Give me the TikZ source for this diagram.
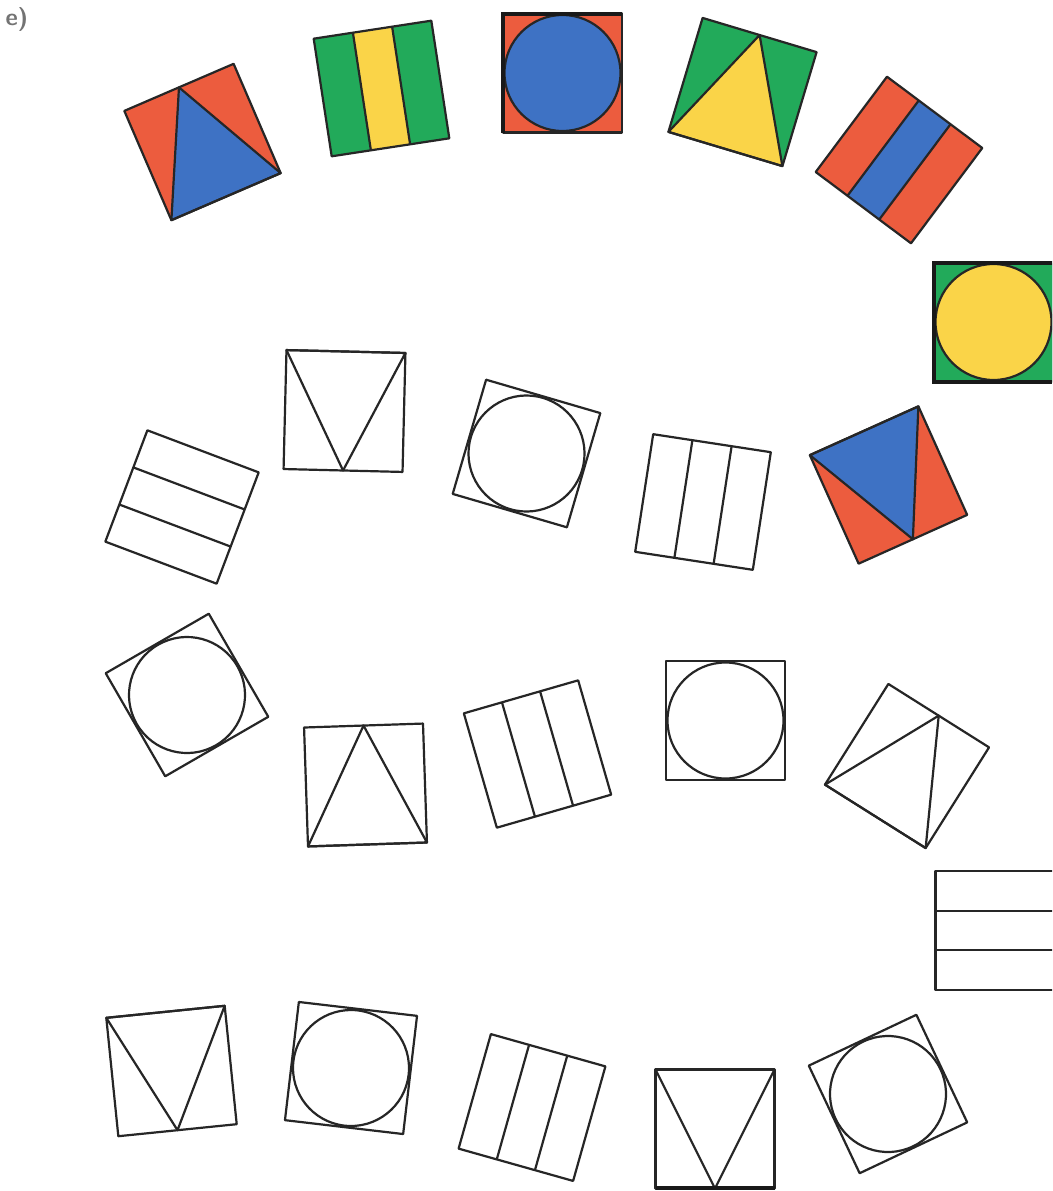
\documentclass[tikz,border=0pt]{standalone}
\definecolor{tred}{RGB}{236,92,62}
\definecolor{tblue}{RGB}{62,114,196}
\definecolor{tgreen}{RGB}{34,170,90}
\definecolor{tyellow}{RGB}{250,212,72}
\def\hs{59.5}
\tikzset{
  tileline/.style={line width=2.2pt, draw=black!85, line join=round},
  thickedge/.style={line width=4pt, draw=black!90},
  pics/circtile/.style 2 args={code={
    \path[fill=#1] (-\hs,-\hs) rectangle (\hs,\hs);
    \path[fill=#2, tileline] (0,0) circle (\hs-1.5);
    \draw[tileline] (-\hs,-\hs) rectangle (\hs,\hs);
  }},
  pics/atile/.style 2 args={code={
    \path[fill=#1] (-\hs,-\hs) rectangle (\hs,\hs);
    \path[fill=#2, tileline] (0,-\hs) -- (\hs,\hs) -- (-\hs,\hs) -- cycle;
    \draw[tileline] (-\hs,-\hs) rectangle (\hs,\hs);
  }},
  pics/vtile/.style 2 args={code={
    \path[fill=#1] (-\hs,-\hs) rectangle (\hs,\hs);
    \path[fill=#2, tileline] (-\hs,-\hs) -- (\hs,-\hs) -- (0,\hs) -- cycle;
    \draw[tileline] (-\hs,-\hs) rectangle (\hs,\hs);
  }},
  pics/vstripetile/.style 2 args={code={
    \path[fill=#1] (-\hs,-\hs) rectangle (\hs,\hs);
    \path[fill=#2] (-\hs/3,-\hs) rectangle (\hs/3,\hs);
    \draw[tileline] (-\hs/3,-\hs) -- (-\hs/3,\hs) (\hs/3,-\hs) -- (\hs/3,\hs);
    \draw[tileline] (-\hs,-\hs) rectangle (\hs,\hs);
  }},
  pics/hstripetile/.style 2 args={code={
    \path[fill=#1] (-\hs,-\hs) rectangle (\hs,\hs);
    \path[fill=#2] (-\hs,-\hs/3) rectangle (\hs,\hs/3);
    \draw[tileline] (-\hs,-\hs/3) -- (\hs,-\hs/3) (-\hs,\hs/3) -- (\hs,\hs/3);
    \draw[tileline] (-\hs,-\hs) rectangle (\hs,\hs);
  }}
}
\begin{document}
\begin{tikzpicture}[x=1pt,y=-1pt]
\useasboundingbox (0,0) rectangle (1052,1191);
\clip (0,0) rectangle (1052,1191);
\fill[white] (0,0) rectangle (1052,1191);
\node[text=black!55, font=\sffamily\bfseries\fontsize{24}{24}\selectfont, inner sep=0pt] (lbl) at (17,19) {e)};
% row 1 (coloured)
\pic[rotate=23.3] (t1) at (202.5,142) {atile={tred}{tblue}};
\pic[rotate=8.7] (t2) at (381.5,88.5) {vstripetile={tgreen}{tyellow}};
\pic (t3) at (562.5,73) {circtile={tred}{tblue}};
\pic[rotate=-16.7] (t4) at (742.5,92) {atile={tgreen}{tyellow}};
\pic[rotate=-36.8] (t5) at (899,160) {vstripetile={tred}{tblue}};
\pic (t6) at (993.5,322) {circtile={tgreen}{tyellow}};
% row 2
\pic[rotate=-20.7] (t7) at (182,507) {hstripetile={none}{none}};
\pic[rotate=-1.4] (t8) at (344.5,411) {vtile={none}{none}};
\pic[rotate=-16.3] (t9) at (526.5,453.5) {circtile={none}{none}};
\pic[rotate=-8.7] (t10) at (703,502) {vstripetile={none}{none}};
\pic[rotate=24.2] (t11) at (888.5,485) {vtile={tred}{tblue}};
% row 3
\pic[rotate=30] (t12) at (187,695) {circtile={none}{none}};
\pic[rotate=1.9] (t13) at (365.5,785) {atile={none}{none}};
\pic[rotate=16.1] (t14) at (537.5,754) {vstripetile={none}{none}};
\pic (t15) at (725.5,720.5) {circtile={none}{none}};
\pic[rotate=-32.2] (t16) at (907,766) {atile={none}{none}};
\pic (t17) at (995,930.5) {hstripetile={none}{none}};
% row 4
\pic[rotate=5.8] (t18) at (171.5,1071) {vtile={none}{none}};
\pic[rotate=-6.7] (t19) at (351,1068) {circtile={none}{none}};
\pic[rotate=-15.75] (t20) at (532,1107.5) {vstripetile={none}{none}};
\pic (t21) at (715,1129) {vtile={none}{none}};
\pic[rotate=25.3] (t22) at (888,1094) {circtile={none}{none}};
% heavier scanned edges
\draw[thickedge] (503,133) -- (503,14) -- (622,14);
\draw[thickedge] (1052,262.5) -- (934,262.5) -- (934,381.5) -- (1052,381.5);
\draw[thickedge] (655.5,1188) -- (774.5,1188);
\end{tikzpicture}
\end{document}
